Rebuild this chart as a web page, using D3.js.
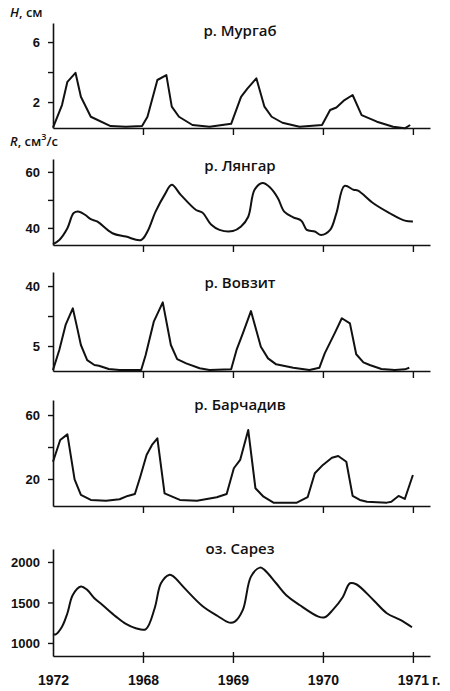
<!DOCTYPE html>
<html>
<head>
<meta charset="utf-8">
<script src="https://cdn.jsdelivr.net/npm/d3@7"></script>
<style>
  html, body { margin: 0; padding: 0; background: #fff; }
  svg { display: block; }
  .tick text { font-family: "Liberation Sans", Arial, sans-serif; font-weight: bold; font-size: 13px; fill: #111; }
  .title { font-family: "Open Sans", "Noto Sans", sans-serif; font-weight: 600; font-size: 15px; fill: #111; }
  .unit { font-family: "Open Sans", "Noto Sans", sans-serif; font-weight: 600; font-size: 13px; fill: #111; }
  .tick text.year, text.year { font-family: "Liberation Sans", Arial, sans-serif; font-weight: bold; font-size: 14px; fill: #111; }
</style>
</head>
<body>
<svg id="chart" width="450" height="691"></svg>
<script>
// ---------- data ----------
const yearLabels = ["1972", "1968", "1969", "1970", "1971"];
const yearTicks = [0, 1, 2, 3, 4];
const yearUnit = "г.";

// р. Мургаб  (H, см)
const murgabT = [0, 0.10, 0.16, 0.25, 0.31, 0.42, 0.64, 0.81, 0.99, 1.05, 1.16, 1.26, 1.32, 1.40, 1.55, 1.74, 1.98, 2.09, 2.16, 2.26, 2.35, 2.43, 2.55, 2.74, 2.99, 3.08, 3.15, 3.24, 3.33, 3.43, 3.60, 3.78, 3.91, 3.97];
const murgabV = [0.29, 1.8, 3.35, 3.95, 2.35, 1.02, 0.4, 0.35, 0.4, 1.02, 3.47, 3.8, 1.69, 1.02, 0.47, 0.35, 0.55, 2.35, 2.9, 3.58, 1.69, 1.02, 0.62, 0.35, 0.47, 1.47, 1.64, 2.13, 2.47, 1.13, 0.69, 0.35, 0.25, 0.47];
const murgabTicks = [2, 4, 6];
const murgabTickLabels = ["2", "", "6"];

// р. Лянгар  (R, см³/с)
const lyangarT = [0, 0.07, 0.16, 0.23, 0.29, 0.36, 0.42, 0.49, 0.66, 0.81, 0.98, 1.05, 1.14, 1.24, 1.32, 1.42, 1.59, 1.66, 1.76, 1.85, 2.00, 2.09, 2.17, 2.24, 2.33, 2.41, 2.50, 2.57, 2.67, 2.76, 2.82, 2.91, 2.98, 3.08, 3.15, 3.24, 3.34, 3.39, 3.56, 3.74, 3.91, 4.00];
const lyangarV = [34.2, 35.7, 39.9, 45.3, 45.8, 44.6, 43.1, 42.3, 38.1, 36.9, 35.7, 38.7, 45.8, 51.8, 55.4, 51.8, 46.4, 45.5, 41.1, 39.3, 38.9, 40.5, 44.0, 53.6, 56.0, 54.5, 50.6, 45.8, 43.8, 42.6, 39.3, 38.7, 37.5, 39.3, 45.3, 55.0, 53.6, 53.3, 48.8, 45.3, 42.6, 42.3];
const lyangarTicks = [40, 50, 60];
const lyangarTickLabels = ["40", "", "60"];

// р. Вовзит
const vovzitT = [0, 0.07, 0.14, 0.22, 0.27, 0.31, 0.38, 0.46, 0.51, 0.62, 0.74, 0.98, 1.03, 1.12, 1.22, 1.31, 1.38, 1.48, 1.63, 1.74, 1.98, 2.04, 2.11, 2.20, 2.31, 2.39, 2.48, 2.67, 2.85, 2.96, 3.02, 3.13, 3.21, 3.30, 3.37, 3.45, 3.52, 3.65, 3.80, 3.91, 3.96];
const vovzitV = [-9.0, 2.7, 17.3, 27.0, 15.3, 5.6, -3.2, -6.1, -6.5, -8.4, -9.0, -9.0, -0.25, 19.2, 30.5, 5.6, -2.6, -5.1, -8.0, -9.0, -8.6, 2.7, 12.4, 25.4, 4.6, -2.2, -5.7, -7.7, -9.0, -7.7, 0.7, 12.4, 21.2, 18.2, 0.2, -4.5, -6.1, -8.4, -9.0, -8.6, -7.7];
const vovzitTicks = [5, 22.5, 40];
const vovzitTickLabels = ["5", "", "40"];

// р. Барчадив
const barchadivT = [0, 0.08, 0.16, 0.24, 0.31, 0.42, 0.59, 0.74, 0.83, 0.91, 0.97, 1.04, 1.10, 1.16, 1.24, 1.41, 1.60, 1.82, 1.93, 2.01, 2.08, 2.17, 2.25, 2.34, 2.45, 2.71, 2.83, 2.91, 3.00, 3.10, 3.17, 3.26, 3.33, 3.41, 3.49, 3.71, 3.76, 3.84, 3.91, 4.00];
const barchadivV = [30.8, 44.4, 47.9, 19.8, 10, 6.9, 6.4, 7.3, 9.4, 10.6, 21.4, 35, 41.3, 45.4, 11.0, 6.9, 6.4, 8.6, 10.6, 26.7, 31.9, 50.6, 14.2, 8.9, 5.2, 5.2, 8.6, 23.6, 28.8, 33.3, 34.4, 30.8, 9.4, 6.9, 5.8, 5.2, 5.8, 9.4, 7.5, 22.5];
const barchadivTicks = [20, 40, 60];
const barchadivTickLabels = ["20", "", "60"];

// оз. Сарез
const sarezT = [0, 0.03, 0.10, 0.16, 0.22, 0.31, 0.38, 0.46, 0.55, 0.70, 0.81, 0.92, 1.03, 1.13, 1.20, 1.29, 1.33, 1.48, 1.66, 1.83, 1.96, 2.02, 2.11, 2.20, 2.30, 2.35, 2.48, 2.59, 2.74, 2.95, 3.02, 3.11, 3.22, 3.30, 3.37, 3.56, 3.71, 3.86, 3.99];
const sarezV = [1107, 1107, 1201, 1367, 1593, 1696, 1655, 1552, 1469, 1325, 1235, 1182, 1169, 1429, 1737, 1840, 1827, 1655, 1457, 1333, 1251, 1263, 1408, 1819, 1930, 1902, 1737, 1593, 1469, 1325, 1317, 1408, 1564, 1737, 1725, 1531, 1367, 1284, 1194];
const sarezTicks = [1000, 1500, 2000];
const sarezTickLabels = ["1000", "1500", "2000"];

// ---------- layout ----------
const svg = d3.select("#chart");
const xMaxT = 4.19;
const x = d3.scaleLinear().domain([0, xMaxT]).range([53, 430]);

const smooth = d3.curveCatmullRom.alpha(0.5);
const panels = [
  { title: "р. Мургаб",   T: murgabT,    V: murgabV,    ticks: murgabTicks,    labels: murgabTickLabels,    domain: [0.27, 7.27],   top: 23,  base: 128, titleY: 36,  curve: d3.curveLinear, last: false },
  { title: "р. Лянгар",   T: lyangarT,   V: lyangarV,   ticks: lyangarTicks,   labels: lyangarTickLabels,   domain: [33.9, 64.6],   top: 159, base: 245, titleY: 171, curve: smooth,         last: false },
  { title: "р. Вовзит",   T: vovzitT,    V: vovzitV,    ticks: vovzitTicks,    labels: vovzitTickLabels,    domain: [-9.58, 48.2],  top: 272, base: 371, titleY: 288, curve: d3.curveLinear, last: false },
  { title: "р. Барчадив", T: barchadivT, V: barchadivV, ticks: barchadivTicks, labels: barchadivTickLabels, domain: [3.1, 69.4],    top: 400, base: 506, titleY: 410, curve: d3.curveLinear, last: false },
  { title: "оз. Сарез",   T: sarezT,     V: sarezV,     ticks: sarezTicks,     labels: sarezTickLabels,     domain: [839, 2160],    top: 549, base: 656, titleY: 554, curve: smooth,         last: true }
];

panels.forEach(p => {
  const y = d3.scaleLinear().domain(p.domain).range([p.base, p.top]);
  const g = svg.append("g");

  // y axis
  const yAxis = d3.axisLeft(y)
    .tickValues(p.ticks)
    .tickFormat((d, i) => p.labels[i])
    .tickSize(5).tickSizeOuter(0).tickPadding(8);
  const gy = g.append("g").attr("transform", `translate(${x(0)},0)`).call(yAxis);
  gy.select(".domain").attr("stroke", "#111").attr("stroke-width", 1.6);
  gy.selectAll(".tick line").attr("stroke", "#111").attr("stroke-width", 1.4);
  gy.selectAll(".tick text").attr("dy", "0.36em");

  // x axis
  const xAxis = d3.axisBottom(x)
    .tickValues(yearTicks)
    .tickFormat((d, i) => p.last ? yearLabels[i] : "")
    .tickSize(7).tickSizeOuter(0).tickPadding(12);
  const gx = g.append("g").attr("transform", `translate(0,${p.base})`).call(xAxis);
  gx.select(".domain").attr("stroke", "#111").attr("stroke-width", 1.6);
  gx.selectAll(".tick line").attr("stroke", "#111").attr("stroke-width", 1.4)
    .attr("y1", p.last ? -4 : 0)
    .attr("display", d => d === 0 ? "none" : null);
  gx.selectAll(".tick text").attr("class", "year");

  // line
  const line = d3.line()
    .x((d, i) => x(p.T[i]))
    .y((d, i) => y(p.V[i]))
    .curve(p.curve);
  g.append("path")
    .attr("d", line(p.V))
    .attr("fill", "none")
    .attr("stroke", "#111")
    .attr("stroke-width", 2)
    .attr("stroke-linejoin", "round");

  // title
  g.append("text").attr("class", "title")
    .attr("x", 240).attr("y", p.titleY)
    .attr("text-anchor", "middle")
    .text(p.title);

  if (p.last) {
    g.append("text").attr("class", "year")
      .attr("x", 432).attr("y", p.base + 29)
      .text(yearUnit);
  }
});

// unit labels
const u1 = svg.append("text").attr("class", "unit").attr("x", 10).attr("y", 17);
u1.append("tspan").attr("font-style", "italic").text("H");
u1.append("tspan").text(", см");

const u2 = svg.append("text").attr("class", "unit").attr("x", 10).attr("y", 146);
u2.append("tspan").attr("font-style", "italic").text("R");
u2.append("tspan").text(", см");
u2.append("tspan").attr("font-size", "9px").attr("dy", "-6").text("3");
u2.append("tspan").attr("dy", "6").text("/с");
</script>
</body>
</html>
